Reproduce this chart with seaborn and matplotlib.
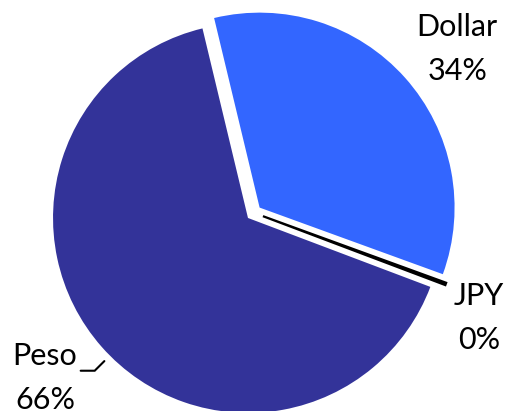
import numpy as np
import matplotlib
matplotlib.use('Agg')
import matplotlib.pyplot as plt
import seaborn as sns

# data
currencies = ['Dollar', 'JPY', 'Peso']
shares = [34.3, 0.2, 65.5]
colors = ['#3366ff', '#000000', '#333399']
explode = [0.08, 0.05, 0]

# label placement (distance from slice centre, angle tweak in degrees)
label_dist = [1.3, 1.225, 1.326]
label_shift = [-3.0, -4.8, -3.1]

sns.set_theme(style='white')
plt.rcParams['font.family'] = ['Lato', 'DejaVu Sans']

fig = plt.figure(figsize=(5.1, 4.11), dpi=100)
ax = fig.add_axes([0, 0, 1, 1])

total = sum(shares)
labels = [f'{c}\n{round(v / total * 100):.0f}%' for c, v in zip(currencies, shares)]

wedges, texts = ax.pie(
    shares, labels=labels, colors=colors, explode=explode,
    startangle=103.5, counterclock=False, labeldistance=1.3,
    textprops={'ha': 'center', 'va': 'center', 'fontsize': 22,
               'color': 'black', 'linespacing': 1.7},
    wedgeprops={'linewidth': 0})

# JPY slice shows as a thin black line sitting between the other two slices
jpy = wedges[1]
jpy.set_edgecolor('black')
jpy.set_linewidth(1.6)
jpy.set_zorder(3)
dx, dy = wedges[0].center
cx, cy = jpy.center
jpy.set_center((cx + dx * 0.5, cy + dy * 0.5))

for t, w, d, s in zip(texts, wedges, label_dist, label_shift):
    a = np.deg2rad((w.theta1 + w.theta2) / 2 + s)
    wx, wy = w.center
    t.set_position((wx + d * np.cos(a), wy + d * np.sin(a)))

# short leader line for Peso
peso = wedges[2]
mid = np.deg2rad((peso.theta1 + peso.theta2) / 2 + 3.5)
r1, r2 = 1.04, 1.11
xs = [r1 * np.cos(mid), r2 * np.cos(mid), r2 * np.cos(mid) - 0.072]
ys = [r1 * np.sin(mid), r2 * np.sin(mid), r2 * np.sin(mid)]
ax.plot(xs, ys, color='black', lw=1.5, solid_joinstyle='miter')

ax.set_xlim(-1.272, 1.344)
ax.set_ylim(-0.990, 1.118)
ax.axis('off')

fig.savefig('out.png', dpi=100)
